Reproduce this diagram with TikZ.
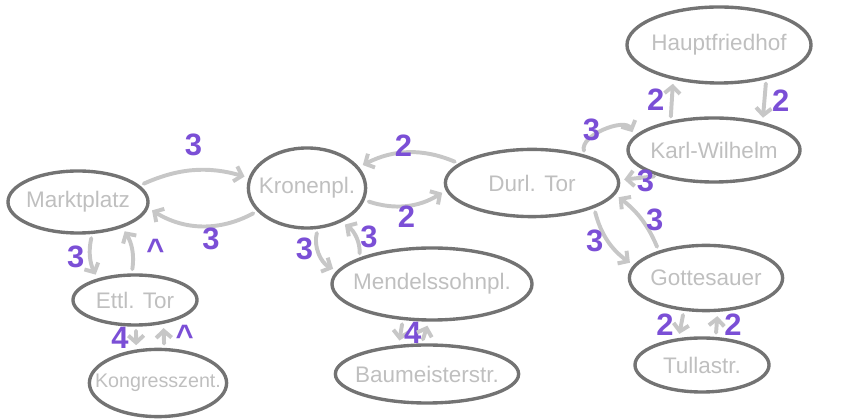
\documentclass[tikz,border=0pt]{standalone}
\usepackage{fontspec}
\setmainfont{Liberation Sans}
\usetikzlibrary{arrows.meta,shapes.geometric}
\definecolor{numpurple}{HTML}{7B4FD6}
\tikzset{
  station/.style={ellipse, draw=black!55, line width=2.4pt, inner sep=0pt,
    label={[text=black!25, font=\fontsize{16}{18}\selectfont]center:#1}},
  link/.style={draw=black!22, line width=2.8pt, line cap=round,
    shorten <=3pt, shorten >=3pt, -{Straight Barb[length=5pt,width=11pt]}},
  num/.style={text=numpurple, font=\bfseries\fontsize{22}{24}\selectfont, inner sep=1pt}
}
\begin{document}
\begin{tikzpicture}[x=0.025cm, y=0.025cm]
    \useasboundingbox (0,0) rectangle (846,419);

    \node [station=Marktplatz, minimum width=3.5cm, minimum height=1.55cm] (mp) at (78,217) {};
    \node [station=Kronenpl., minimum width=2.93cm, minimum height=2cm] (kp) at (307,231) {};
    \node [station=Durl. Tor, minimum width=4.33cm, minimum height=1.68cm] (dt) at (532,236) {};
    \node [station=Mendelssohnpl., minimum width=5cm, minimum height=1.8cm] (ms) at (432,135) {};
    \node [station=Baumeisterstr., minimum width=4.58cm, minimum height=1.45cm] (bm) at (427,45) {};
    \node [station=Ettl. Tor, minimum width=3.1cm, minimum height=1.25cm] (et) at (135,119) {};
    \node [station={\fontsize{14}{16}\selectfont Kongresszent.}, minimum width=3.43cm, minimum height=1.68cm] (kz) at (158,36) {};
    \node [station=Hauptfriedhof, minimum width=4.6cm, minimum height=1.9cm] (hf) at (719,374) {};
    \node [station=Karl-Wilhelm, minimum width=4.3cm, minimum height=1.6cm] (kw) at (714,269) {};
    \node [station=Gottesauer, minimum width=3.83cm, minimum height=1.63cm] (gs) at (706,141) {};
    \node [station=Tullastr., minimum width=3.35cm, minimum height=1.35cm] (ts) at (702,54) {};

    \draw [link] (mp.15) to [bend left=20] node [num, above=8pt] {3} (kp.170);
    \draw [link] (kp.205) to [bend left=30] node [num, pos=0.42, below=-1pt] {3} (mp.-5);

    \draw [link] (dt.165) to [bend right=25] node [num, pos=0.55, above=-5pt] {2} (kp.22);
    \draw [link] (kp.-12) to [bend right=25] node [num, below=-2pt] {2} (dt.185);

    \draw [link] (kp.-75) to [bend right=40] node [num, pos=0.4, left=1pt] {3} (ms.172);
    \draw [link] (ms.160) to [bend right=30] node [num, right=1pt] {3} (kp.-45);

    \draw [link] (ms.-129) to node [num, right=0pt] {4} (bm.134);
    \draw [link] (bm.100) to (ms.-95);

    \draw [link] (mp.-66) to [bend right=20] node [num, left=2pt] {3} (et.150);
    \draw [link] (et.97) to [bend right=20] node [num, right=8pt] {\textasciicircum} (mp.-30);

    \draw [link] (et.-88) to node [num, left=3pt] {4} (kz.123);
    \draw [link] (kz.80) to node [num, right=6pt] {\textasciicircum} (et.-40);

    \draw [link] (dt.28) to [bend left=85] node [num, pos=0.3, above=-4pt] {3} (kw.170);
    \draw [link] (kw.-155) to node [num, at start, below=-7pt, xshift=-9pt] {3} (dt.2);

    \draw [link] (dt.-22) to [bend right=20] node [num, left=1pt] {3} (gs.170);
    \draw [link] (gs.150) to [bend right=15] node [num, right=1pt] {3} (dt.-8);

    \draw [link] (kw.146) to node [num, left=3pt] {2} (hf.-143);
    \draw [link] (hf.-36) to node [num, right=3pt] {2} (kw.30);

    \draw [link] (gs.-124) to node [num, left=3pt] {2} (ts.131);
    \draw [link] (ts.64) to node [num, right=3pt] {2} (gs.-71);
\end{tikzpicture}
\end{document}
